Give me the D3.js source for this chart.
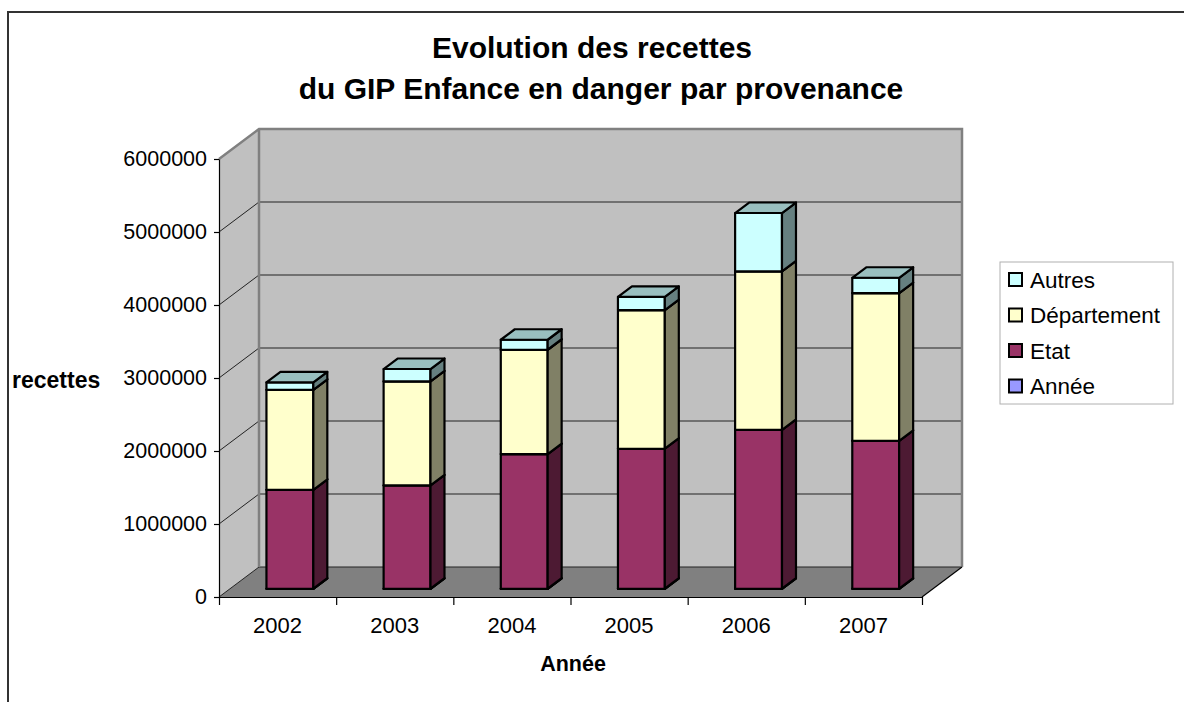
<!DOCTYPE html>
<html>
<head>
<meta charset="utf-8">
<script src="https://cdn.jsdelivr.net/npm/d3@7"></script>
<style>
  body { margin: 0; background: #fff; }
  text { font-family: "Liberation Sans", Arial, sans-serif; }
</style>
</head>
<body>
<div class="chart"></div>
<script>
// data
const years = ["2002", "2003", "2004", "2005", "2006", "2007"];
const annee = [2002, 2003, 2004, 2005, 2006, 2007];
const etat = [1356000, 1415000, 1845000, 1918000, 2178000, 2027000];
const departement = [1370000, 1425000, 1429000, 1900000, 2169000, 2023000];
const autres = [100000, 170000, 137000, 180000, 800000, 210000];
const yTicks = [0, 1000000, 2000000, 3000000, 4000000, 5000000, 6000000];

const keys = ["Année", "Etat", "Département", "Autres"];
const colors = {"Année": "#9999ff", "Etat": "#993366", "Département": "#ffffcc", "Autres": "#ccffff"};

const table = years.map((y, i) => ({
    year: y,
    "Année": annee[i],
    "Etat": etat[i],
    "Département": departement[i],
    "Autres": autres[i]
}));

const W = 1184, H = 702;
const x0 = 219, x1 = 922, yBottom = 597, yTop = 159;
const DX = 40, DY = 30;           // depth of the 3d box
const d0 = 0.27, d1 = 0.62;        // depth of the bars inside the box

const svg = d3.select(".chart").append("svg")
    .attr("width", W)
    .attr("height", H);

// outer frame
svg.append("path")
    .attr("d", `M8,${H} V12 H${W}`)
    .attr("fill", "none")
    .attr("stroke", "#333")
    .attr("stroke-width", 2);

const yScale = d3.scaleLinear().domain([0, 6000000]).range([yBottom, yTop]);
const xBand = d3.scaleBand().domain(years).range([x0, x1]).paddingInner(0.6).paddingOuter(0.3);
const xLin = d3.scaleLinear().domain([0, years.length]).range([x0, x1]);

const proj = (x, y, d) => [x + DX * d, y - DY * d];
const poly = pts => "M" + pts.map(p => p.join(",")).join("L") + "Z";

// walls and floor
svg.append("path")
    .attr("d", poly([proj(x0, yTop, 0), proj(x0, yTop, 1), proj(x0, yBottom, 1), proj(x0, yBottom, 0)]))
    .attr("fill", "#c0c0c0");
svg.append("path")
    .attr("d", poly([proj(x0, yTop, 1), proj(x1, yTop, 1), proj(x1, yBottom, 1), proj(x0, yBottom, 1)]))
    .attr("fill", "#c0c0c0");
svg.append("path")
    .attr("d", poly([proj(x0, yBottom, 0), proj(x1, yBottom, 0), proj(x1, yBottom, 1), proj(x0, yBottom, 1)]))
    .attr("fill", "#808080");

// gridlines
const grid = svg.append("g").attr("class", "grid");
yTicks.slice(0, -1).forEach(v => {
    const a = proj(x0, yScale(v), 0), b = proj(x0, yScale(v), 1), c = proj(x1, yScale(v), 1);
    grid.append("path")
        .attr("d", `M${a}L${b}L${c}`)
        .attr("fill", "none")
        .attr("stroke", "#222")
        .attr("stroke-width", 1);
});

// wall borders
const tl = proj(x0, yTop, 1), tr = proj(x1, yTop, 1), br = proj(x1, yBottom, 1), bl = proj(x0, yBottom, 1);
svg.append("path")
    .attr("d", `M${x0},${yTop}L${tl}L${tr}L${br}M${tl}L${bl}`)
    .attr("fill", "none")
    .attr("stroke", "#808080")
    .attr("stroke-width", 2.5);

// floor right edge
svg.append("path")
    .attr("d", `M${x1},${yBottom}L${proj(x1, yBottom, 1)}`)
    .attr("stroke", "#000")
    .attr("stroke-width", 1.2);

// bars
const stacked = d3.stack().keys(keys)(table);
const shade = (c, k) => { const r = d3.rgb(c); return d3.rgb(r.r * k, r.g * k, r.b * k).toString(); };

const barsG = svg.append("g");
stacked.forEach(layer => {
    const col = colors[layer.key];
    layer.forEach(d => {
        const bx = xBand(d.data.year) + 1.5;
        const bw = xBand.bandwidth();
        const ya = yScale(d[0]), yb = yScale(d[1]);
        const g = barsG.append("g")
            .attr("stroke", "#000")
            .attr("stroke-width", 2.2)
            .attr("stroke-linejoin", "round");
        // front
        g.append("path")
            .attr("d", poly([proj(bx, yb, d0), proj(bx + bw, yb, d0), proj(bx + bw, ya, d0), proj(bx, ya, d0)]))
            .attr("fill", col);
        // right side
        g.append("path")
            .attr("d", poly([proj(bx + bw, yb, d0), proj(bx + bw, yb, d1), proj(bx + bw, ya, d1), proj(bx + bw, ya, d0)]))
            .attr("fill", shade(col, 0.5));
        // top
        g.append("path")
            .attr("d", poly([proj(bx, yb, d0), proj(bx, yb, d1), proj(bx + bw, yb, d1), proj(bx + bw, yb, d0)]))
            .attr("fill", shade(col, 0.75));
    });
});

// y axis
const yAxis = d3.axisLeft(yScale)
    .tickValues(yTicks)
    .tickFormat(d3.format("d"))
    .tickSize(5)
    .tickSizeOuter(0)
    .tickPadding(7);
const yAxisG = svg.append("g")
    .attr("transform", `translate(${x0},0)`)
    .call(yAxis);
yAxisG.selectAll("text")
    .attr("font-size", 21.5)
    .attr("fill", "#000")
    .attr("font-family", "Liberation Sans, Arial, sans-serif");
yAxisG.selectAll("line, path").attr("stroke", "#000").attr("stroke-width", 1.2);

// x axis: ticks at boundaries, labels at centers
const xTickG = svg.append("g")
    .attr("transform", `translate(0,${yBottom})`)
    .call(d3.axisBottom(xLin).tickValues(d3.range(years.length + 1)).tickFormat("").tickSize(8).tickSizeOuter(0));
xTickG.selectAll("line, path").attr("stroke", "#000").attr("stroke-width", 1.2);

const xLabelScale = d3.scaleBand().domain(years).range([x0, x1]);
const xLabelG = svg.append("g")
    .attr("transform", `translate(0,${yBottom})`)
    .call(d3.axisBottom(xLabelScale).tickSize(0).tickPadding(20));
xLabelG.select(".domain").remove();
xLabelG.selectAll("text")
    .attr("font-size", 22)
    .attr("fill", "#000")
    .attr("font-family", "Liberation Sans, Arial, sans-serif");

// titles
svg.append("text")
    .attr("x", 592).attr("y", 58)
    .attr("text-anchor", "middle")
    .attr("font-size", 30).attr("font-weight", "bold")
    .text("Evolution des recettes");
svg.append("text")
    .attr("x", 601).attr("y", 99)
    .attr("text-anchor", "middle")
    .attr("font-size", 30).attr("font-weight", "bold")
    .text("du GIP Enfance en danger par provenance");

svg.append("text")
    .attr("x", 12).attr("y", 388)
    .attr("font-size", 23).attr("font-weight", "bold")
    .text("recettes");

svg.append("text")
    .attr("x", 573).attr("y", 671)
    .attr("text-anchor", "middle")
    .attr("font-size", 21.5).attr("font-weight", "bold")
    .text("Année");

// legend
const legend = svg.append("g").attr("transform", "translate(1000,262)");
legend.append("rect")
    .attr("width", 173).attr("height", 142)
    .attr("fill", "#fff")
    .attr("stroke", "#b0b0b0");
const legendKeys = keys.slice().reverse();
legendKeys.forEach((k, i) => {
    const cy = 17.5 + i * 35.5;
    legend.append("rect")
        .attr("x", 9).attr("y", cy - 6.5)
        .attr("width", 13).attr("height", 13)
        .attr("fill", colors[k])
        .attr("stroke", "#000")
        .attr("stroke-width", 2);
    legend.append("text")
        .attr("x", 30).attr("y", cy)
        .attr("dy", "0.36em")
        .attr("font-size", 22.5)
        .text(k);
});
</script>
</body>
</html>
